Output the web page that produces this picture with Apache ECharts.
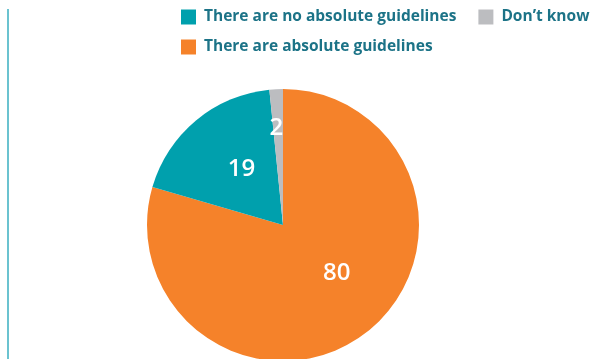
<!DOCTYPE html>
<html>
<head>
<meta charset="utf-8">
<script src="https://cdn.jsdelivr.net/npm/echarts@6/dist/echarts.min.js"></script>
<style>
html,body{margin:0;padding:0;background:#fff;}
#chart{width:599px;height:359px;}
</style>
</head>
<body>
<div id="chart"></div>
<script>
// Data
const categories = ['There are absolute guidelines', 'There are no absolute guidelines', 'Don\u2019t know'];
const values = [79.5, 18.9, 1.6];
const colors = ['#f5822a', '#00a0ad', '#bcbdc0'];
const legendRow1 = ['There are no absolute guidelines', 'Don\u2019t know'];
const legendRow2 = ['There are absolute guidelines'];

// label nudges (style, not data)
const labelOffsets = [[11, -9], [4, -1], [-3, -26]];

const chart = echarts.init(document.getElementById('chart'), null, {renderer: 'canvas'});
const legendText = {fontFamily: 'Open Sans', fontSize: 15.5, fontWeight: 'bold', color: '#1c7387', padding: [0, 0, 0, 3]};
chart.setOption({
  animation: false,
  color: colors,
  graphic: [{
    type: 'line', shape: {x1: 8, y1: 9, x2: 8, y2: 359},
    style: {stroke: '#3aafc0', lineWidth: 1.5}
  }],
  legend: [
    {data: legendRow1, left: 181, top: 9, padding: 0, itemWidth: 15, itemHeight: 15, itemGap: 22, icon: 'rect', textStyle: legendText},
    {data: legendRow2, left: 181, top: 39, padding: 0, itemWidth: 15, itemHeight: 15, icon: 'rect', textStyle: legendText}
  ],
  series: [{
    type: 'pie',
    center: [283, 225],
    radius: [0, 136],
    startAngle: 90,
    clockwise: true,
    silent: true,
    label: {
      show: true, position: 'inside', color: '#fff',
      fontFamily: 'Open Sans', fontSize: 24, fontWeight: 600,
      formatter: p => Math.round(p.value)
    },
    labelLine: {show: false},
    itemStyle: {borderWidth: 0},
    data: categories.map((c, i) => ({name: c, value: values[i], label: {offset: labelOffsets[i]}}))
  }]
});
</script>
</body>
</html>
